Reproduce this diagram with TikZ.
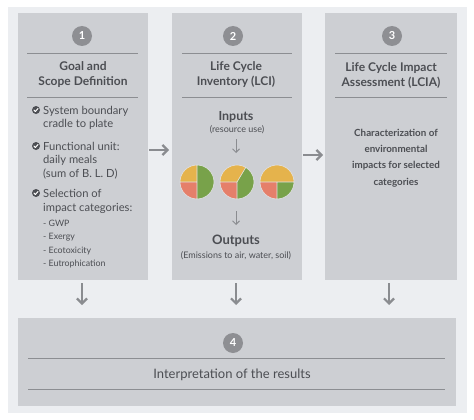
\documentclass[tikz,border=0pt]{standalone}
\usepackage{fontspec}
\setmainfont{Lato}
\usetikzlibrary{arrows.meta}
\definecolor{outerbg}{HTML}{ECEEF1}
\definecolor{boxbg}{HTML}{CDCFD3}
\definecolor{numbg}{HTML}{8E8F93}
\definecolor{txt}{HTML}{4C4E53}
\definecolor{rule}{HTML}{8C8E92}
\definecolor{arr}{HTML}{8A8C90}
\definecolor{pieY}{HTML}{E5B34C}
\definecolor{pieR}{HTML}{E57F6A}
\definecolor{pieG}{HTML}{78A24A}
\tikzset{
  panel/.style={fill=boxbg, draw=none},
  numcircle/.style={circle, fill=numbg, minimum size=20pt, inner sep=0pt, text=white, font=\fontsize{11}{11}\selectfont\bfseries},
  sep/.style={draw=rule, line width=0.9pt},
  title/.style={text=txt, align=center, font=\fontsize{12}{15}\selectfont\bfseries},
  body/.style={text=txt, anchor=base west, inner sep=0pt, font=\fontsize{11.2}{13}\selectfont},
  sub/.style={text=txt, anchor=base west, inner sep=0pt, font=\fontsize{8.8}{10}\selectfont},
  flow/.style={draw=arr, line width=2.2pt, -{Straight Barb[length=5pt,width=10pt,line width=2.2pt]}},
  smallflow/.style={draw=arr, line width=1pt, -{Straight Barb[length=3.5pt,width=7pt,line width=1pt]}},
  wedge/.style={draw=boxbg!60!white, line width=0.6pt},
}
\newcommand{\checkmk}[2]{%
  \fill[txt] (#1,#2) circle (4pt);
  \draw[white, line width=1pt, line cap=round, line join=round] (#1-2,#2+0.1) -- (#1-0.6,#2+1.5) -- (#1+2.1,#2-1.6);
}
\begin{document}
\begin{tikzpicture}[x=1pt,y=-1pt]
\useasboundingbox (0,0) rectangle (474,420);
\fill[white] (0,0) rectangle (474,420);
\fill[outerbg] (8,7) rectangle (467,413);

% panels
\fill[panel] (18,13) rectangle (148,280);
\fill[panel] (172,13) rectangle (302,280);
\fill[panel] (325,13) rectangle (457,280);
\fill[panel] (18,318) rectangle (456,406);
\coordinate (p1b) at (82,283);
\coordinate (p2b) at (236,283);
\coordinate (p3b) at (389,283);

% ---- panel 1
\node[numcircle] (n1) at (82,36) {1};
\draw[sep] (27,53) -- (138,53);
\node[title] (t1) at (83,75) {Goal and\\Scope Definition};
\draw[sep] (27,97) -- (138,97);
\checkmk{36}{110}
\node[body] (b1a) at (43,114) {System boundary};
\node[body] (b1b) at (43,128) {cradle to plate};
\checkmk{36}{146}
\node[body] (b1c) at (43,150) {Functional unit:};
\node[body] (b1d) at (43,163) {daily meals};
\node[body] (b1e) at (43,177) {(sum of B. L. D)};
\checkmk{36}{193}
\node[body] (b1f) at (43,197) {Selection of};
\node[body] (b1g) at (43,211) {impact categories:};
\node[sub] (s1) at (43,226) {- GWP};
\node[sub] (s2) at (43,239) {- Exergy};
\node[sub] (s3) at (43,253) {- Ecotoxicity};
\node[sub] (s4) at (43,266) {- Eutrophication};

% ---- panel 2
\node[numcircle] (n2) at (233,36) {2};
\draw[sep] (182,53) -- (292,53);
\node[title] (t2) at (236,75) {Life Cycle\\Inventory (LCI)};
\draw[sep] (182,97) -- (292,97);
\node[text=txt, font=\fontsize{12.5}{14}\selectfont\bfseries] (inp) at (236,117) {Inputs};
\node[text=txt, font=\fontsize{9}{10}\selectfont, inner sep=1pt] (inps) at (237,130) {(resource use)};
\coordinate (a1s) at (236,139);
\coordinate (a1e) at (236,153);
\draw[smallflow] (a1s) -- (a1e);
% pies
\begin{scope}[shift={(197,182)}, yscale=-1]
  \fill[pieG] (0,0) -- (-90:17) arc[start angle=-90,end angle=90,radius=17] -- cycle;
  \fill[pieY] (0,0) -- (90:17) arc[start angle=90,end angle=180,radius=17] -- cycle;
  \fill[pieR] (0,0) -- (180:17) arc[start angle=180,end angle=270,radius=17] -- cycle;
  \draw[wedge] (0,0) circle (17) (0,-17) -- (0,17) (-17,0) -- (0,0);
\end{scope}
\begin{scope}[shift={(237,182)}, yscale=-1]
  \fill[pieG] (0,0) -- (-90:17) arc[start angle=-90,end angle=59,radius=17] -- cycle;
  \fill[pieY] (0,0) -- (59:17) arc[start angle=59,end angle=180,radius=17] -- cycle;
  \fill[pieR] (0,0) -- (180:17) arc[start angle=180,end angle=270,radius=17] -- cycle;
  \draw[wedge] (0,0) circle (17) (0,0) -- (0,-17) (-17,0) -- (0,0) -- (59:17);
\end{scope}
\begin{scope}[shift={(277,182)}, yscale=-1]
  \fill[pieY] (0,0) -- (0:17) arc[start angle=0,end angle=180,radius=17] -- cycle;
  \fill[pieR] (0,0) -- (180:17) arc[start angle=180,end angle=270,radius=17] -- cycle;
  \fill[pieG] (0,0) -- (270:17) arc[start angle=270,end angle=360,radius=17] -- cycle;
  \draw[wedge] (0,0) circle (17) (-17,0) -- (17,0) (0,0) -- (0,-17);
\end{scope}
\coordinate (a2s) at (236,211);
\coordinate (a2e) at (236,225);
\draw[smallflow] (a2s) -- (a2e);
\node[text=txt, font=\fontsize{13}{15}\selectfont\bfseries] (outp) at (236,241) {Outputs};
\node[text=txt, font=\fontsize{9}{10}\selectfont, inner sep=1pt] (outs) at (236,256) {(Emissions to air, water, soil)};

% ---- panel 3
\node[numcircle] (n3) at (392,36) {3};
\draw[sep] (335,53) -- (447,53);
\node[title] (t3) at (391,75) {Life Cycle Impact\\Assessment (LCIA)};
\draw[sep] (335,97) -- (447,97);
\node[text=txt, align=center, font=\fontsize{9.8}{16.3}\selectfont\bfseries] (b3) at (396,158) {Characterization of\\environmental\\impacts for selected\\categories};

% ---- panel 4
\node[numcircle] (n4) at (233,343) {4};
\draw[sep] (28,358) -- (445,358);
\node[text=txt, font=\fontsize{13}{15}\selectfont] (t4) at (232,375) {Interpretation of the results};
\draw[sep] (28,389) -- (445,389);

% ---- flow arrows
\coordinate (h1s) at (149,150);
\coordinate (h1e) at (169,150);
\draw[flow] (h1s) -- (h1e);
\coordinate (h2s) at (303,155);
\coordinate (h2e) at (323,155);
\draw[flow] (h2s) -- (h2e);
\coordinate (v1e) at (82,305);
\coordinate (v2e) at (236,305);
\coordinate (v3e) at (389,305);
\draw[flow] (p1b) -- (v1e);
\draw[flow] (p2b) -- (v2e);
\draw[flow] (p3b) -- (v3e);
\end{tikzpicture}
\end{document}
